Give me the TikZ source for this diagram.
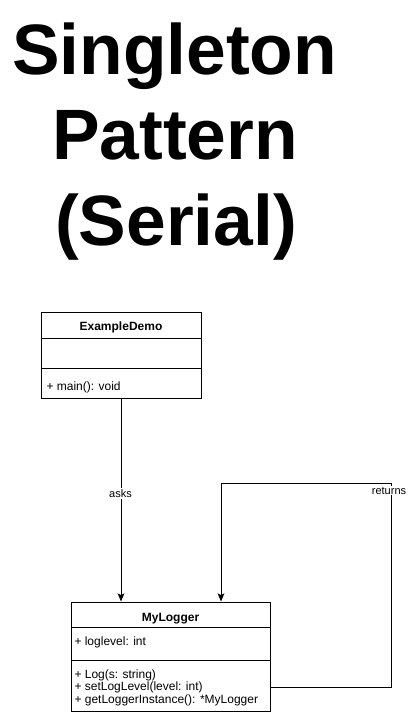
\documentclass[tikz,border=0pt]{standalone}
\usepackage{fontspec}
\setmainfont{Liberation Sans}
\usetikzlibrary{arrows.meta}
\begin{document}
\begin{tikzpicture}[x=0.75pt,y=-0.75pt,
  line width=0.75pt,
  umlbox/.style={draw, rectangle, inner sep=0pt},
  titletext/.style={font=\fontsize{53.5pt}{60pt}\selectfont\bfseries, anchor=base, inner sep=0pt},
  hdr/.style={font=\fontsize{9pt}{10pt}\selectfont\bfseries, anchor=base, inner sep=0pt},
  member/.style={font=\fontsize{9pt}{10pt}\selectfont, anchor=base west, inner sep=0pt},
  lbl/.style={font=\fontsize{8.25pt}{9pt}\selectfont, fill=white, inner sep=1pt},
  arr/.style={-{Stealth[length=6pt,width=5pt,inset=1.2pt]}}
]
\useasboundingbox (0,0) rectangle (408,716);

% title
\node[titletext] (t1) at (174.5,74.5) {Singleton};
\node[titletext] (t2) at (175,160) {Pattern};
\node[titletext] (t3) at (176,245.5) {(Serial)};

% ExampleDemo class
\node[umlbox, minimum width=120pt, minimum height=64.5pt] (ed) at (121,355) {};
\draw (41,338) -- (201,338);
\draw (41,368) -- (201,368);
\node[hdr] (edname) at (121,330) {ExampleDemo};
\node[member] (edm) at (46,390) {+ main(): void};

% MyLogger class
\node[umlbox, minimum width=149.25pt, minimum height=81.75pt] (ml) at (170.5,656.5) {};
\draw (71,627) -- (270,627);
\draw (71,660) -- (270,660);
\node[hdr] (mlname) at (170.5,621) {MyLogger};
\node[member] (mla) at (74,645) {+ loglevel: int};
\node[member] (mlm1) at (74,678) {+ Log(s: string)};
\node[member] (mlm2) at (74,690.5) {+ setLogLevel(level: int)};
\node[member] (mlm3) at (74,703) {+ getLoggerInstance(): *MyLogger};

% connectors
\coordinate (askx) at (121,0);
\draw[arr] (ed.south) -- (ml.north -| askx);
\node[lbl] (asks) at (120.5,493.5) {asks};

\coordinate (retY) at (0,687);
\coordinate (rc) at (391,483);
\coordinate (retX) at (221,0);
\draw[arr] (ml.east |- retY) -| (rc) -| (ml.north -| retX);
\node[lbl] (returns) at (389,490.5) {returns};
\end{tikzpicture}
\end{document}
